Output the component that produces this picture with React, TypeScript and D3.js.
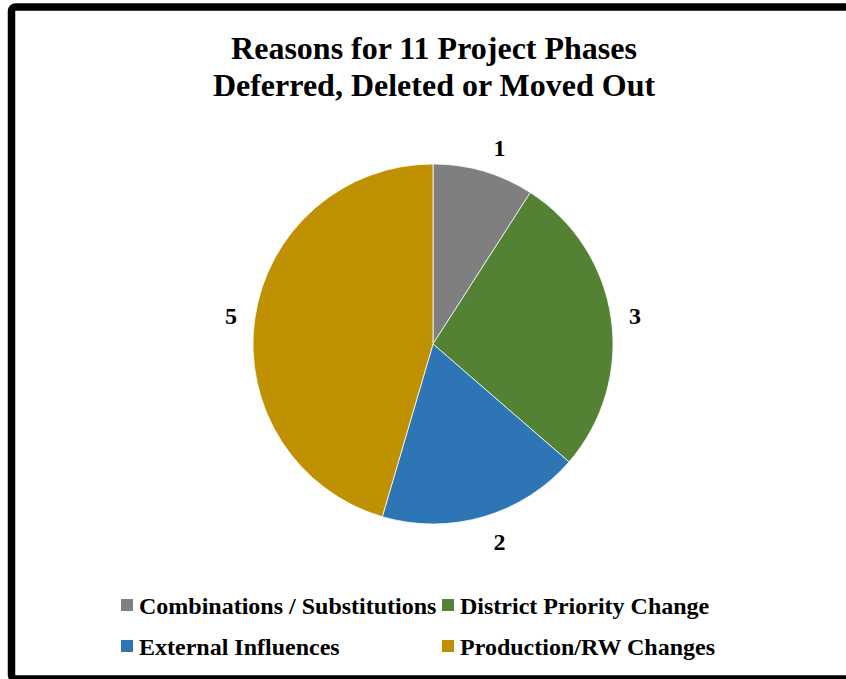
import React from "react";
import * as d3 from "d3";

const categories = ["Combinations / Substitutions", "District Priority Change", "External Influences", "Production/RW Changes"];
const values = [1, 3, 2, 5];
const colors = ["#7F7F7F", "#548235", "#2E75B6", "#BF9000"];
const titleLines = ["Reasons for 11 Project Phases", "Deferred, Deleted or Moved Out"];

const W = 846;
const H = 679;
const FONT = "'Liberation Serif', 'Times New Roman', serif";

// small label nudges (Excel best-fit placement)
const labelDx = [9, 0, 9, 0];
const labelDy = [0, 1, 2, 1];

export default function App() {
  const cx = 433, cy = 344, r = 180, labelR = 204;
  const pie = d3.pie<number>().sort(null).value((d) => d);
  const arcs = pie(values);
  const arc = d3.arc<d3.PieArcDatum<number>>().innerRadius(0).outerRadius(r);
  const labelArc = d3.arc<d3.PieArcDatum<number>>().innerRadius(labelR).outerRadius(labelR);

  const legendPos = [
    { x: 121, y: 605 },
    { x: 442, y: 605 },
    { x: 121, y: 646 },
    { x: 442, y: 646 },
  ];

  return (
    <svg width={W} height={H} style={{ position: "absolute", left: 0, top: 0, display: "block" }}>
      <rect x={0} y={0} width={W} height={H} fill="#fff" />
      <rect x={11.5} y={7} width={W} height={672} rx={4} fill="#fff" stroke="#000" strokeWidth={7.5} />
      <g fontFamily={FONT} fontWeight="bold" fill="#000">
        {titleLines.map((t, i) => (
          <text key={i} x={434} y={59 + i * 37} textAnchor="middle" fontSize={32}>{t}</text>
        ))}
      </g>
      <g transform={`translate(${cx},${cy})`}>
        {arcs.map((a, i) => (
          <path key={i} d={arc(a) || ""} fill={colors[i]} stroke="#fff" strokeWidth={0.75} />
        ))}
        {arcs.map((a, i) => {
          const [x, y] = labelArc.centroid(a);
          return (
            <text key={"l" + i} x={x + labelDx[i]} y={y + labelDy[i]} textAnchor="middle" dominantBaseline="central"
              fontFamily={FONT} fontWeight="bold" fontSize={24}>{values[i]}</text>
          );
        })}
      </g>
      <g fontFamily={FONT} fontWeight="bold" fontSize={24}>
        {categories.map((c, i) => (
          <g key={c} transform={`translate(${legendPos[i].x},${legendPos[i].y})`}>
            <rect x={0} y={-6} width={12} height={12} fill={colors[i]} />
            <text x={18} y={1} dominantBaseline="central">{c}</text>
          </g>
        ))}
      </g>
    </svg>
  );
}
